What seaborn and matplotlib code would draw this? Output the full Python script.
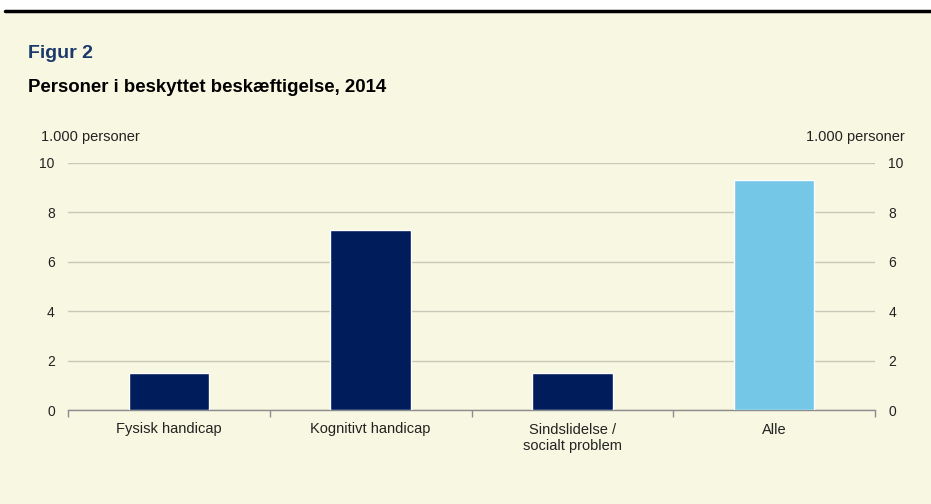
import matplotlib.pyplot as plt
import numpy as np
import pandas as pd
import seaborn as sns

categories = ["Fysisk handicap", "Kognitivt handicap", "Sindslidelse /\nsocialt problem", "Alle"]
values = [1.5, 7.3, 1.5, 9.3]
bar_colors = ["#001C5A", "#001C5A", "#001C5A", "#74C7E6"]
yticks = [0, 2, 4, 6, 8, 10]

BG = "#F8F7E1"

sns.set_theme(style="white")
plt.rcParams["font.family"] = ["Liberation Sans", "DejaVu Sans"]

df = pd.DataFrame({"kategori": categories, "personer": values})

fig = plt.figure(figsize=(9.31, 5.04), dpi=100)
fig.patch.set_facecolor(BG)
# white strip above the black rule
fig.add_artist(plt.Rectangle((0, 1 - 11 / 504), 1, 11 / 504, transform=fig.transFigure,
                             facecolor="white", edgecolor="none", zorder=-1))
fig.add_artist(plt.Line2D([5 / 931, 1], [1 - 11 / 504, 1 - 11 / 504], color="black", lw=2.5,
                          transform=fig.transFigure))

ax = fig.add_axes([68 / 931, 1 - 410 / 504, (875 - 68) / 931, (410 - 163) / 504])
ax.set_facecolor(BG)

sns.barplot(data=df, x="kategori", y="personer", hue="kategori", palette=bar_colors,
            width=0.4, legend=False, saturation=1, ax=ax, zorder=3)

ax.set_xlim(-0.5, 3.5)
ax.set_ylim(0, 10)
ax.set_yticks(yticks)
ax.set_xlabel("")
ax.set_ylabel("")
ax.grid(axis="y", color="#C9C8B8", lw=1, zorder=0)
ax.set_axisbelow(True)
for s in ["top", "left", "right"]:
    ax.spines[s].set_visible(False)
ax.spines["bottom"].set_color("#8C8C8C")
ax.spines["bottom"].set_linewidth(1)

ax.set_xticks(np.arange(len(categories)))
ax.set_xticklabels(categories, fontsize=10.5, color="#222222")
ax.tick_params(axis="x", length=0, pad=9)
ax.set_xticks(np.arange(len(categories) + 1) - 0.5, minor=True)
ax.tick_params(axis="x", which="minor", length=5, color="#8C8C8C", direction="out", bottom=True)
ax.tick_params(axis="y", length=0, labelsize=10, labelcolor="#222222", pad=9.5)

ax2 = ax.twinx()
ax2.set_ylim(0, 10)
ax2.set_yticks(yticks)
for s in ["top", "left", "right", "bottom"]:
    ax2.spines[s].set_visible(False)
ax2.tick_params(axis="y", length=0, labelsize=10, labelcolor="#222222", pad=9.5)

fig.text(28 / 931, 1 - 53 / 504, "Figur 2", fontsize=14, fontweight="bold",
         color="#1B3A6B", va="center", ha="left")
fig.text(28 / 931, 1 - 87 / 504, "Personer i beskyttet beskæftigelse, 2014", fontsize=13.4,
         fontweight="bold", color="black", va="center", ha="left")
fig.text(41 / 931, 1 - 137 / 504, "1.000 personer", fontsize=10.5, color="#222222",
         va="center", ha="left")
fig.text(905 / 931, 1 - 137 / 504, "1.000 personer", fontsize=10.5, color="#222222",
         va="center", ha="right")

fig.savefig("out.png", dpi=100, facecolor=fig.get_facecolor())
